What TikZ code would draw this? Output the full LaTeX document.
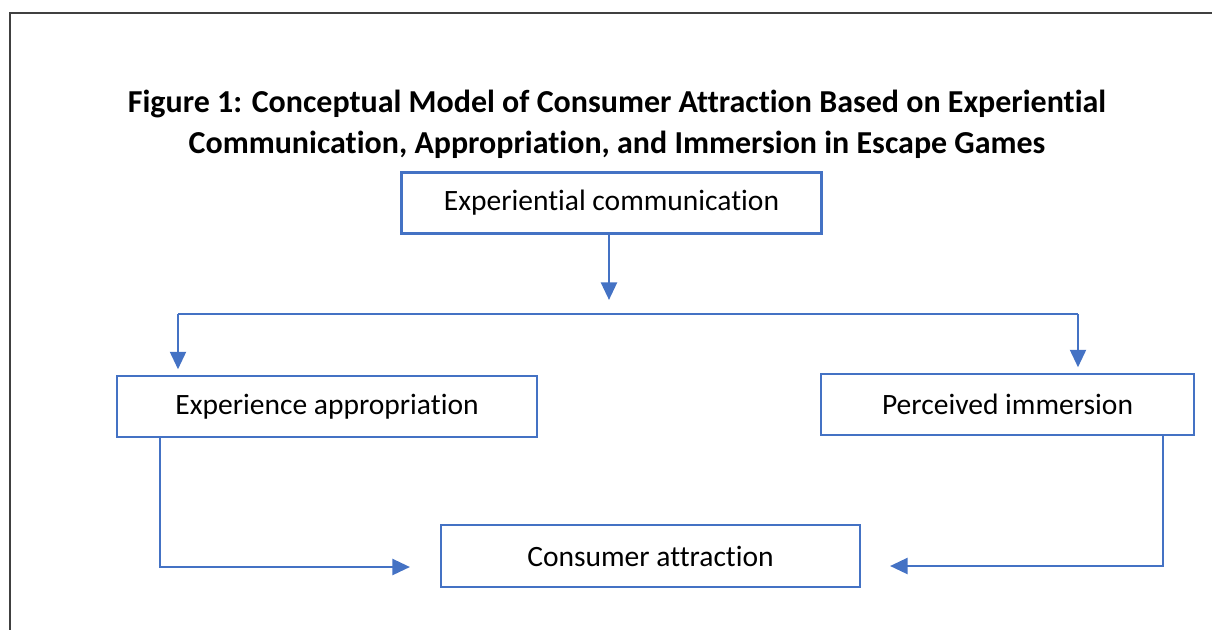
\documentclass[tikz,border=0pt]{standalone}
\usepackage{fontspec}
\setmainfont{Carlito}[Ligatures=NoCommon]
\usetikzlibrary{arrows.meta,positioning}
\definecolor{boxblue}{HTML}{4472C4}

\begin{document}
\begin{tikzpicture}
		[auto,
		block/.style ={rectangle, draw=boxblue, line width=1.6pt, fill=white, minimum width=8.4cm, minimum height=1.22cm, font=\fontsize{16.8}{19}\selectfont, inner sep=0pt},
		line/.style ={draw=boxblue, line width=1.6pt, -{Triangle[length=10pt,width=9pt]}},
		wire/.style ={draw=boxblue, line width=1.6pt},
		title/.style ={align=center, font=\fontsize{18.2}{23.2}\selectfont\bfseries},
		]
		\useasboundingbox (0,0) rectangle (24.24,-12.6);
		\draw[line width=0.8pt, black!75] (24.24,-0.26) -- (0.2,-0.26) -- (0.2,-12.6);

		\draw (12.34,-2.49) node[title] (T) {Figure 1: Conceptual Model of Consumer Attraction Based on Experiential\\Communication, Appropriation, and Immersion in Escape Games};

		\draw (12.23,-4.06) node[block] (EC) {Experiential communication};
		\draw (6.54,-8.13) node[block] (EA) {Experience appropriation};
		\draw (20.15,-8.09) node[block, minimum width=7.46cm] (PI) {Perceived immersion};
		\draw (13.01,-11.12) node[block, minimum width=8.38cm, minimum height=1.24cm] (CA) {Consumer attraction};

		% split of the communication arrow
		\coordinate (S) at (12.18,-6.0);
		\coordinate (SL) at (3.56,-6.28);
		\coordinate (SR) at (21.56,-6.28);
		\coordinate (EAd) at (3.2,-8.74);
		\coordinate (CAl) at (8.2,-11.34);
		\coordinate (PId) at (23.26,-8.70);
		\coordinate (CAr) at (17.8,-11.32);

		\path[line] (EC.south -| S) -- (S);
		\path[wire] (SL) -- (SR);
		\draw[line] (SL) -- ([yshift=3pt]SL |- EA.north);
		\draw[line] (SR) -- ([yshift=3pt]SR |- PI.north);
		\draw[line] (EAd) |- (CAl);
		\draw[line] (PId) |- (CAr);
	\end{tikzpicture}
\end{document}
